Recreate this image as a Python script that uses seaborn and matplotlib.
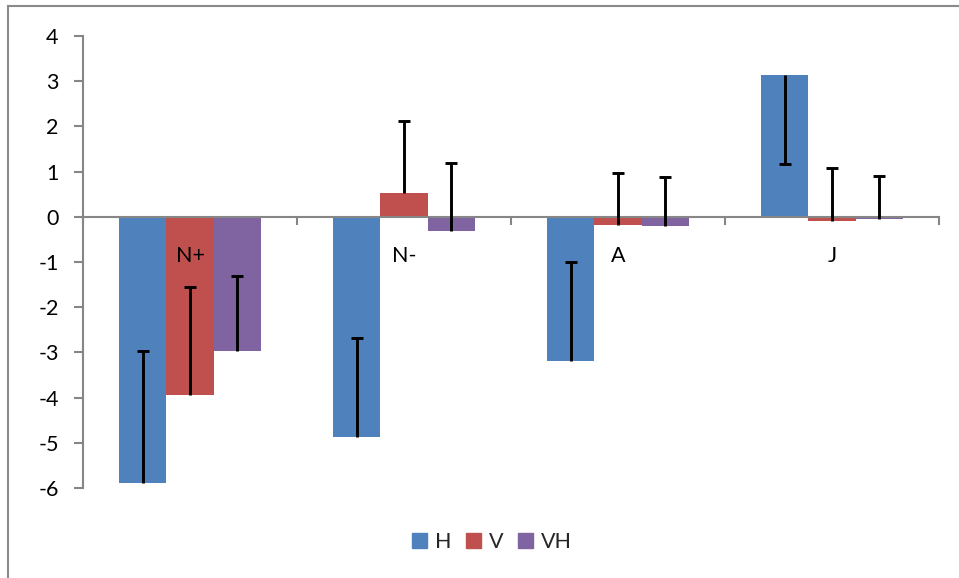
import matplotlib
matplotlib.use("Agg")
import matplotlib.pyplot as plt
import seaborn as sns
import pandas as pd
import numpy as np
from matplotlib.patches import Rectangle

categories = ["N+", "N-", "A", "J"]
series = ["H", "V", "VH"]
values_H = [-5.88, -4.87, -3.19, 3.13]
values_V = [-3.94, 0.52, -0.18, -0.09]
values_VH = [-2.96, -0.31, -0.21, -0.04]
err_H = [2.90, 2.18, 2.20, -1.96]
err_V = [2.38, 1.61, 1.15, 1.17]
err_VH = [1.65, 1.50, 1.10, 0.95]
yticks = [4, 3, 2, 1, 0, -1, -2, -3, -4, -5, -6]
colors = ["#4F81BD", "#C0504D", "#8064A2"]

sns.set_style("white")
plt.rcParams["font.family"] = ["Lato", "DejaVu Sans"]
FS = 15.5

values = {"H": values_H, "V": values_V, "VH": values_VH}
errs = {"H": err_H, "V": err_V, "VH": err_VH}
df = pd.DataFrame({
    "cat": [c for s in series for c in categories],
    "series": [s for s in series for _ in categories],
    "value": [v for s in series for v in values[s]],
})

fig = plt.figure(figsize=(9.59, 5.78), dpi=100)
ax = fig.add_axes([83/959, 1-488/578, (939-83)/959, (488-36)/578])
sns.barplot(data=df, x="cat", y="value", hue="series", order=categories,
            hue_order=series, palette=colors, width=0.664, linewidth=0,
            saturation=1, ax=ax, legend=True)

cw = 0.028
for cont, s in zip(ax.containers, series):
    for i, bar in enumerate(cont):
        x = bar.get_x() + bar.get_width()/2
        v = values[s][i]
        d = errs[s][i]
        ax.vlines(x, v, v + d, color="black", lw=2.1, zorder=5)
        ax.hlines(v + d, x - cw, x + cw, color="black", lw=2.1, zorder=5)

ax.set_axisbelow(False)
ax.set_ylim(-6, 4)
ax.set_xlim(-0.5, 3.5)
ax.set_yticks(yticks)
ax.set_yticklabels([str(t) for t in yticks])
ax.set_xticks(range(len(categories)))
ax.set_xticklabels(categories)
ax.set_xticks(np.arange(-0.5, 4, 1), minor=True)
ax.set_xlabel("")
ax.set_ylabel("")

grey = "#868686"
for sp in ["top", "right"]:
    ax.spines[sp].set_visible(False)
ax.spines["left"].set_color(grey)
ax.spines["left"].set_linewidth(1.5)
ax.spines["bottom"].set_position(("data", 0))
ax.spines["bottom"].set_color(grey)
ax.spines["bottom"].set_linewidth(1.5)
ax.tick_params(axis="y", direction="out", length=6.5, width=1.5, color=grey, pad=11,
               left=True, labelsize=FS, labelcolor="black")
ax.tick_params(axis="x", which="major", length=0, pad=21, bottom=True,
               labelsize=FS, labelcolor="black")
ax.tick_params(axis="x", which="minor", direction="out", length=6, width=1.5,
               color=grey, bottom=True)
for lab in ax.get_xticklabels():
    lab.set_zorder(10)

ax.get_legend().remove()
handles = [Rectangle((0, 0), 1, 1, color=c) for c in colors]
fig.legend(handles, series, loc="center", bbox_to_anchor=(492/959, 1-542/578),
           ncol=3, frameon=False, fontsize=FS, handlelength=0.7, handleheight=0.7,
           handletextpad=0.35, columnspacing=0.7)

fig.patches.append(Rectangle((8/959, -0.05), 1.1, 1-6/578+0.05, transform=fig.transFigure,
                             fill=False, edgecolor="#8a8a8a", lw=1.5))

fig.savefig("out.png", dpi=100)
